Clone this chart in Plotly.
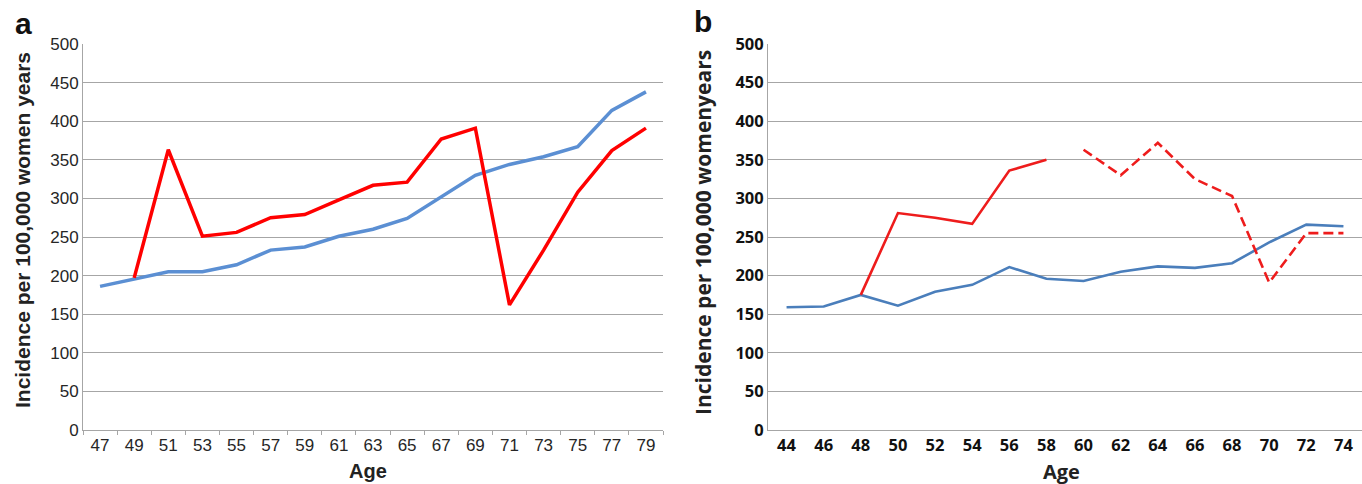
import plotly.graph_objects as go

# Panel a data
ages_a = ["47", "49", "51", "53", "55", "57", "59", "61", "63", "65", "67", "69", "71", "73", "75", "77", "79"]
blue_a = [186, 195, 205, 205, 214, 233, 237, 251, 260, 274, 302, 330, 344, 354, 367, 414, 438]
red_a_ages = ["49", "51", "53", "55", "57", "59", "61", "63", "65", "67", "69", "71", "73", "75", "77", "79"]
red_a = [197, 363, 251, 256, 275, 279, 298, 317, 321, 377, 391, 162, 233, 308, 362, 391]

# Panel b data
ages_b = ["44", "46", "48", "50", "52", "54", "56", "58", "60", "62", "64", "66", "68", "70", "72", "74"]
blue_b = [159, 160, 175, 161, 179, 188, 211, 196, 193, 205, 212, 210, 216, 243, 266, 264]
red_b_solid_ages = ["48", "50", "52", "54", "56", "58"]
red_b_solid = [175, 281, 275, 267, 336, 350]
red_b_dash_ages = ["60", "62", "64", "66", "68", "70", "72", "74"]
red_b_dash = [363, 330, 372, 325, 303, 191, 255, 255]

y_ticks = [0, 50, 100, 150, 200, 250, 300, 350, 400, 450, 500]

W, H = 1362, 484
fig = go.Figure()

fig.add_trace(go.Scatter(x=ages_a, y=blue_a, mode="lines", line=dict(color="#5b8fd3", width=3.5),
                         xaxis="x", yaxis="y", showlegend=False))
fig.add_trace(go.Scatter(x=red_a_ages, y=red_a, mode="lines", line=dict(color="#ff0000", width=3.5),
                         xaxis="x", yaxis="y", showlegend=False))

fig.add_trace(go.Scatter(x=ages_b, y=blue_b, mode="lines", line=dict(color="#4a7ebb", width=2.6),
                         xaxis="x2", yaxis="y2", showlegend=False))
fig.add_trace(go.Scatter(x=red_b_solid_ages, y=red_b_solid, mode="lines", line=dict(color="#ee1c1c", width=2.6),
                         xaxis="x2", yaxis="y2", showlegend=False))
fig.add_trace(go.Scatter(x=red_b_dash_ages, y=red_b_dash, mode="lines",
                         line=dict(color="#ee1c1c", width=2.6, dash="10px,5px"),
                         xaxis="x2", yaxis="y2", showlegend=False))

ydom = [(H - 430) / H, (H - 44) / H]
grid = "#a6a6a6"
fa = "Liberation Sans, Arial"
fb = "Open Sans, Liberation Sans"

fig.update_layout(
    width=W, height=H,
    margin=dict(l=0, r=0, t=0, b=0),
    paper_bgcolor="white", plot_bgcolor="white",
    xaxis=dict(domain=[83 / W, 663 / W], type="category", categoryorder="array", categoryarray=ages_a,
               range=[-0.5, len(ages_a) - 0.5], showgrid=False, showline=True, linecolor=grid, linewidth=1,
               ticks="outside", tickson="boundaries", ticklen=4, tickcolor=grid, automargin=False,
               tickfont=dict(family=fa, size=17, color="#262626"), anchor="y"),
    yaxis=dict(domain=ydom, range=[0, 500], tickvals=y_ticks, showgrid=True, gridcolor=grid, gridwidth=1,
               showline=True, linecolor=grid, linewidth=1, ticks="", zeroline=False, automargin=False,
               tickfont=dict(family=fa, size=17, color="#262626"), anchor="x"),
    xaxis2=dict(domain=[768 / W, 1.0], type="category", categoryorder="array", categoryarray=ages_b,
                range=[-0.5, len(ages_b) - 0.5], showgrid=False, showline=True, linecolor=grid, linewidth=1,
                ticks="", automargin=False,
                tickfont=dict(family=fb, size=16.5, color="#111111", weight="bold"),
                anchor="y2"),
    yaxis2=dict(domain=ydom, range=[0, 500], tickvals=y_ticks, showgrid=True, gridcolor=grid, gridwidth=1,
                showline=True, linecolor=grid, linewidth=1, ticks="", zeroline=False, automargin=False,
                tickfont=dict(family=fb, size=16.5, color="#111111", weight="bold"),
                anchor="x2"),
)

ann = [
    dict(text="<b>a</b>", x=23 / W, y=(H - 23) / H, font=dict(family=fa, size=30, color="#111")),
    dict(text="<b>b</b>", x=703 / W, y=(H - 21) / H, font=dict(family=fa, size=30, color="#111")),
    dict(text="<b>Incidence per 100,000 women years</b>", x=22 / W, y=(H - 230) / H, textangle=-90,
         font=dict(family=fa, size=21, color="#222")),
    dict(text="<b>Incidence per 100,000 womenyears</b>", x=703 / W, y=(H - 233) / H, textangle=-90,
         font=dict(family=fb, size=21, color="#222")),
    dict(text="<b>Age</b>", x=368 / W, y=(H - 471) / H, font=dict(family=fa, size=20, color="#222")),
    dict(text="<b>Age</b>", x=1061 / W, y=(H - 471) / H, font=dict(family=fb, size=20, color="#222")),
]
for a in ann:
    a.update(xref="paper", yref="paper", showarrow=False, xanchor="center", yanchor="middle")
fig.update_layout(annotations=ann)

fig.write_html("out.html", config={"displayModeBar": False},
               post_script="document.body.style.margin='0';document.body.style.overflow='hidden';")
